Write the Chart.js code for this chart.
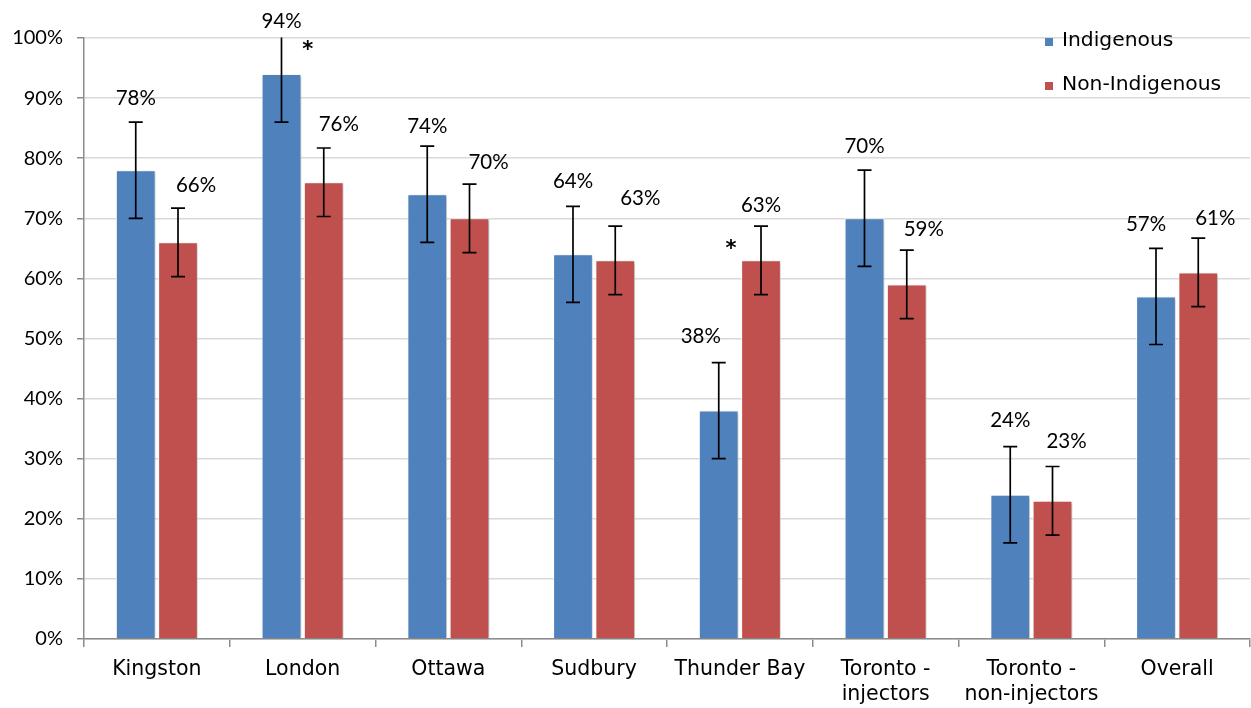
<!DOCTYPE html>
<html>
<head>
<meta charset="utf-8">
<script src="https://cdn.jsdelivr.net/npm/chart.js@4.4.1/dist/chart.umd.min.js"></script>
<style>
  html, body { margin: 0; padding: 0; background: #ffffff; }
  #wrap { width: 1251px; height: 708px; position: relative; }
</style>
</head>
<body>
<div id="wrap"><canvas id="c"></canvas></div>
<script>
// Sites surveyed
const categories = ['Kingston', 'London', 'Ottawa', 'Sudbury', 'Thunder Bay',
  ['Toronto -', 'injectors'], ['Toronto -', 'non-injectors'], 'Overall'];

// Percentages by group
const indigenous    = [78, 94, 74, 64, 38, 70, 24, 57];
const nonIndigenous = [66, 76, 70, 63, 63, 59, 23, 61];

// Half-width of the error bars (percentage points)
const indigenousErr    = [8, 8, 8, 8, 8, 8, 8, 8];
const nonIndigenousErr = [5.7, 5.7, 5.7, 5.7, 5.7, 5.7, 5.7, 5.7];

// Significant differences between groups
const significant = ['', '*', '', '', '*', '', '', ''];

// Y-axis tick values
const yTicks = [0, 10, 20, 30, 40, 50, 60, 70, 80, 90, 100];

const BLUE = '#4F81BD';
const RED = '#C0504D';
const LABEL_FONT = '20.5px Lato, "Open Sans", sans-serif';
const CAT_FONT_FAMILY = '"DejaVu Sans", Verdana, sans-serif';

// Label placement nudges (pixels, relative to the top of each error bar)
const labelLayout = [
  { dx: [0, 0, 0, 0, -18, 0, 0, -10], dy: [-24, -17, -20, -25, -26, -24, -26, -24] },
  { dx: [18, 15, 19, 25, 0, 17, 14, 17], dy: [-23, -24, -22, -28, -21, -21, -25, -20] }
];
// Asterisk placement relative to the Non-Indigenous value label
const starLayout = [null, { dx: -31, dy: -77 }, null, null, { dx: -30, dy: 40 }, null, null, null];

const shadowPlugin = {
  id: 'barShadow',
  beforeDatasetsDraw(chart) {
    const ctx = chart.ctx;
    ctx.save();
    ctx.shadowColor = 'rgba(0,0,0,0.28)';
    ctx.shadowBlur = 3;
    ctx.shadowOffsetX = 1.5;
    ctx.shadowOffsetY = 1;
  },
  afterDatasetsDraw(chart) {
    chart.ctx.restore();
  }
};

const errorBarPlugin = {
  id: 'errorBars',
  afterDatasetsDraw(chart) {
    const ctx = chart.ctx;
    const y = chart.scales.y;
    const area = chart.chartArea;
    const errs = [indigenousErr, nonIndigenousErr];
    ctx.save();
    ctx.beginPath();
    ctx.rect(area.left, area.top - 0.5, area.right - area.left, area.bottom - area.top + 1);
    ctx.clip();
    ctx.strokeStyle = '#000000';
    ctx.lineWidth = 1.7;
    chart.data.datasets.forEach((ds, di) => {
      const meta = chart.getDatasetMeta(di);
      meta.data.forEach((bar, i) => {
        const v = ds.data[i];
        const e = errs[di][i];
        const top = y.getPixelForValue(v + e);
        const bot = y.getPixelForValue(v - e);
        const x = bar.x;
        const cap = 7;
        ctx.beginPath();
        ctx.moveTo(x, top); ctx.lineTo(x, bot);
        ctx.moveTo(x - cap, top); ctx.lineTo(x + cap, top);
        ctx.moveTo(x - cap, bot); ctx.lineTo(x + cap, bot);
        ctx.stroke();
      });
    });
    ctx.restore();
  }
};

const valueLabelPlugin = {
  id: 'valueLabels',
  afterDraw(chart) {
    const ctx = chart.ctx;
    const y = chart.scales.y;
    const area = chart.chartArea;
    const errs = [indigenousErr, nonIndigenousErr];
    ctx.save();
    ctx.fillStyle = '#000000';
    ctx.textAlign = 'center';
    ctx.textBaseline = 'middle';
    chart.data.datasets.forEach((ds, di) => {
      const meta = chart.getDatasetMeta(di);
      meta.data.forEach((bar, i) => {
        const v = ds.data[i];
        const errTop = Math.max(y.getPixelForValue(v + errs[di][i]), area.top);
        const lx = bar.x + labelLayout[di].dx[i];
        const ly = errTop + labelLayout[di].dy[i];
        ctx.font = LABEL_FONT;
        ctx.fillText(v + '%', lx, ly);
        if (di === 1 && significant[i]) {
          const s = starLayout[i];
          ctx.font = 'bold 21px ' + CAT_FONT_FAMILY;
          ctx.fillText(significant[i], lx + s.dx, ly + s.dy + 4);
        }
      });
    });
    ctx.restore();
  }
};

const legendPlugin = {
  id: 'sideLegend',
  afterDraw(chart) {
    const ctx = chart.ctx;
    const items = [
      { text: chart.data.datasets[0].label, color: BLUE, y: 41 },
      { text: chart.data.datasets[1].label, color: RED, y: 85 }
    ];
    ctx.save();
    ctx.font = '20.3px ' + CAT_FONT_FAMILY;
    ctx.textBaseline = 'middle';
    ctx.textAlign = 'left';
    items.forEach(it => {
      ctx.fillStyle = it.color;
      ctx.fillRect(1045, it.y - 3, 8, 8);
      ctx.fillStyle = '#000000';
      ctx.fillText(it.text, 1062, it.y);
    });
    ctx.restore();
  }
};

new Chart(document.getElementById('c'), {
  type: 'bar',
  data: {
    labels: categories,
    datasets: [
      { label: 'Indigenous', data: indigenous, backgroundColor: BLUE,
        borderColor: 'rgba(255,255,255,0.85)', borderWidth: 1, borderSkipped: 'bottom' },
      { label: 'Non-Indigenous', data: nonIndigenous, backgroundColor: RED,
        borderColor: 'rgba(255,255,255,0.85)', borderWidth: 1, borderSkipped: 'bottom' }
    ]
  },
  options: {
    responsive: true,
    maintainAspectRatio: false,
    animation: false,
    devicePixelRatio: 1,
    layout: { padding: { top: 38, right: 1, left: 0, bottom: 0 } },
    datasets: { bar: { categoryPercentage: 0.58, barPercentage: 0.94 } },
    plugins: {
      legend: { display: false },
      tooltip: { enabled: false }
    },
    scales: {
      x: {
        grid: { display: true, drawOnChartArea: false, offset: true, drawTicks: true,
                tickLength: 8, color: '#8c8c8c', lineWidth: 1.5 },
        border: { color: '#8c8c8c', width: 1.5 },
        ticks: { color: '#000000', font: { family: CAT_FONT_FAMILY, size: 20.5, lineHeight: 1.22 },
                 padding: 10, maxRotation: 0, autoSkip: false },
        afterFit(s) { s.height = 69; }
      },
      y: {
        min: 0, max: 100,
        afterBuildTicks(s) { s.ticks = yTicks.map(v => ({ value: v })); },
        grid: { color: '#d9d9d9', lineWidth: 1.5, tickColor: '#8c8c8c', tickLength: 7 },
        border: { color: '#8c8c8c', width: 1.5 },
        ticks: { color: '#000000', font: { family: 'Lato, "Open Sans", sans-serif', size: 20 },
                 padding: 14, callback: v => v + '%' },
        afterFit(s) { s.width = 84; }
      }
    }
  },
  plugins: [shadowPlugin, errorBarPlugin, valueLabelPlugin, legendPlugin]
});
</script>
</body>
</html>
